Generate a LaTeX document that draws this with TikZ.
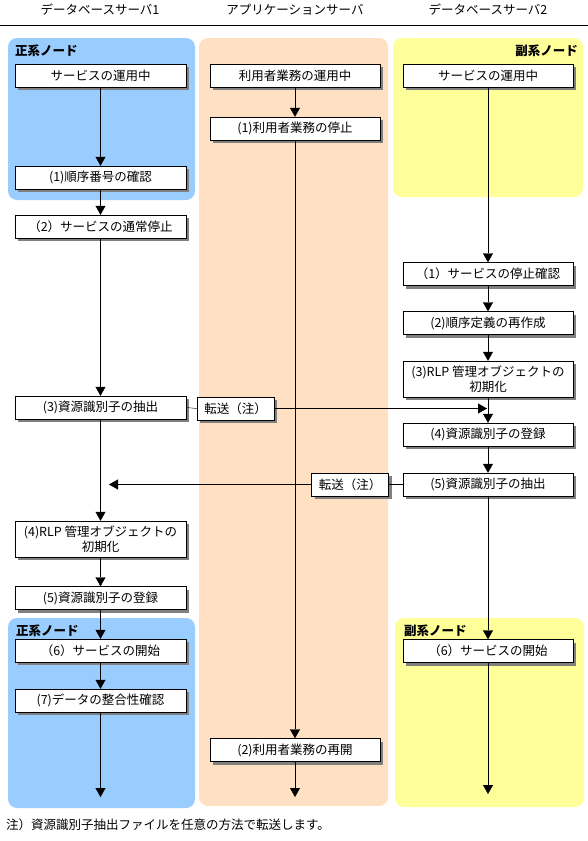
\documentclass[tikz,border=0pt]{standalone}
\usepackage{fontspec}
\setmainfont{Noto Sans CJK JP}
\usepackage{xcolor}
\usetikzlibrary{calc}
\usetikzlibrary{arrows.meta}
\usetikzlibrary{shadows}

\definecolor{masterblue}{HTML}{99CCFF}
\definecolor{apppeach}{HTML}{FFE0C2}
\definecolor{slaveyellow}{HTML}{FFFF99}

\tikzset{
  stepbox/.style={draw=black, fill=white, minimum width=171pt, minimum height=23pt,
    inner sep=1pt, align=center, font=\fontsize{12.5}{15}\selectfont,
    drop shadow={shadow xshift=3pt, shadow yshift=-3pt, fill=black!50, opacity=1}},
  sendbox/.style={stepbox, minimum width=77pt},
  flow/.style={-{Triangle[width=10pt,length=9pt]}},
  region/.style={rounded corners=9pt},
  roletext/.style={font=\fontsize{12.5}{15}\selectfont\bfseries, inner sep=0pt},
  headtext/.style={font=\fontsize{12.5}{15}\selectfont, inner sep=0pt}
}

\begin{document}
\begin{tikzpicture}[x=1pt,y=-1pt]
\useasboundingbox (0,0) rectangle (588,841);

\fill[region, masterblue] (8,38) rectangle (195,200);
\fill[region, apppeach] (199,38) rectangle (388,806);
\fill[region, slaveyellow] (393,38) rectangle (583,197);
\fill[region, masterblue] (8,618) rectangle (195,808);
\fill[region, slaveyellow] (395,618) rectangle (584,807);

\node[headtext] (h1) at (100,10) {データベースサーバ1};
\node[headtext] (h2) at (295,10) {アプリケーションサーバ};
\node[headtext] (h3) at (488,10) {データベースサーバ2};
\draw (0,25) -- (588,25);

\node[roletext, anchor=west] (r1) at (15,51) {正系ノード};
\node[roletext, anchor=east] (r2) at (578,51) {副系ノード};
\node[roletext, anchor=west] (r3) at (16,631) {正系ノード};
\node[roletext, anchor=west] (r4) at (404,631) {副系ノード};

\node[stepbox] (s0) at (100.5,75.5) {サービスの運用中};
\node[stepbox] (s1) at (100.5,177.5) {(1)順序番号の確認};
\node[stepbox] (s2) at (100.5,226.5) {（2）サービスの通常停止};
\node[stepbox] (s3) at (100.5,407.5) {(3)資源識別子の抽出};
\node[stepbox, minimum height=36pt] (s4) at (100.5,539) {(4)RLP 管理オブジェクトの\\初期化};
\node[stepbox] (s5) at (100.5,598) {(5)資源識別子の登録};
\node[stepbox] (s6) at (100.5,650.5) {（6）サービスの開始};
\node[stepbox] (s7) at (100.5,700.5) {(7)データの整合性確認};
\coordinate (s8) at (100.5,797);

\node[stepbox, minimum width=170pt] (a0) at (295,75.5) {利用者業務の運用中};
\node[stepbox, minimum width=170pt] (a1) at (295,128.5) {(1)利用者業務の停止};
\node[stepbox, minimum width=170pt] (a2) at (295,750) {(2)利用者業務の再開};
\coordinate (a3) at (295,797);

\node[stepbox, minimum width=170pt] (b0) at (488,75.5) {サービスの運用中};
\node[stepbox, minimum width=170pt] (b1) at (488,274) {（1）サービスの停止確認};
\node[stepbox, minimum width=170pt] (b2) at (488,323) {(2)順序定義の再作成};
\node[stepbox, minimum width=170pt, minimum height=36pt] (b3) at (488,379) {(3)RLP 管理オブジェクトの\\初期化};
\node[stepbox, minimum width=170pt] (b4) at (488,434.5) {(4)資源識別子の登録};
\node[stepbox, minimum width=170pt] (b5) at (488,484.5) {(5)資源識別子の抽出};
\node[stepbox, minimum width=170pt] (b6) at (488,651) {（6）サービスの開始};
\coordinate (b7) at (488,794);

\node[sendbox] (t1) at (235.5,408.5) {転送（注）};
\node[sendbox] (t2) at (350,484.5) {転送（注）};
\coordinate (t1end) at (487,408.5);
\coordinate (t2end) at (109,484.5);

\draw[flow] (s0) -- (s1);
\draw[flow] (s1) -- (s2);
\draw[flow] (s2) -- (s3);
\draw[flow] (s3) -- (s4);
\draw[flow] (s4) -- (s5);
\draw[flow] (s5) -- (s6);
\draw[flow] (s6) -- (s7);
\draw[flow] (s7.south) -- (s8);

\draw[flow] (a0) -- (a1);
\draw[flow] (a1) -- (a2);
\draw[flow] (a2.south) -- (a3);

\draw[flow] (b0) -- (b1);
\draw[flow] (b1) -- (b2);
\draw[flow] (b2) -- (b3);
\draw[flow] (b3) -- (b4);
\draw[flow] (b4) -- (b5);
\draw[flow] (b5) -- (b6);
\draw[flow] (b6.south) -- (b7);

\draw (s3.east) -- (t1.west);
\draw[flow] (t1.east) -- (t1end);
\draw (b5.west) -- (t2.east);
\draw[flow] (t2.west) -- (t2end);

\node[headtext, anchor=west] (note) at (6,825) {注）資源識別子抽出ファイルを任意の方法で転送します。};
\end{tikzpicture}
\end{document}
